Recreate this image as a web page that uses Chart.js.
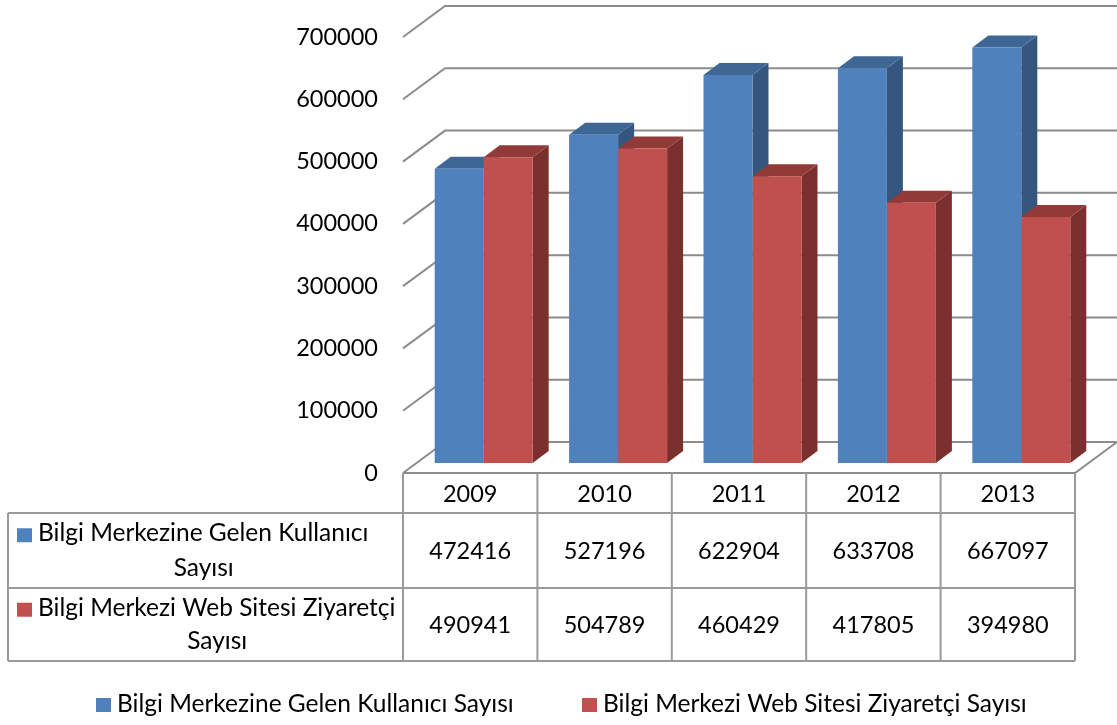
<!DOCTYPE html>
<html><head><meta charset="utf-8">
<script src="https://cdn.jsdelivr.net/npm/chart.js@4"></script>
<style>html,body{margin:0;padding:0;background:#fff;overflow:hidden}#wrap{width:1117px;height:725px;position:relative}</style>
</head><body><div id="wrap"><canvas id="c" width="1117" height="725"></canvas></div>
<script>
// ---- data ----
const years = ['2009', '2010', '2011', '2012', '2013'];
const seriesNames = ['Bilgi Merkezine Gelen Kullanıcı Sayısı', 'Bilgi Merkezi Web Sitesi Ziyaretçi Sayısı'];
const rowHeaderLines = [['Bilgi Merkezine Gelen Kullanıcı', 'Sayısı'], ['Bilgi Merkezi Web Sitesi Ziyaretçi', 'Sayısı']];
const kullanici = [472416, 527196, 622904, 633708, 667097];
const ziyaretci = [490941, 504789, 460429, 417805, 394980];
const yMin = 0, yMax = 700000, yStep = 100000;

// ---- style ----
const FRONT = '#4F81BD', RED = '#C0504D';
const faceColors = [{top: '#3E6796', side: '#34567F'}, {top: '#923A37', side: '#7B302E'}];
const TEXT_FONT = '24.5px Lato';
const NUM_FONT = '23.5px Lato';
const GRID = '#8C8C8C';
const TABLE = '#9A9A9A';
const FRONT_DX = -13.5, FRONT_DY = 10, BACK_DX = 28.5, BACK_DY = -21;
const BAR_DX = 16, BAR_DY = -12;
const ROW_Y = [473, 513, 588, 661];
const TABLE_LEFT = 8;

const scene = {
  id: 'scene',
  beforeDatasetsDraw(chart) {
    const ctx = chart.ctx, ys = chart.scales.y, ca = chart.chartArea;
    ctx.save();
    ctx.strokeStyle = GRID; ctx.lineWidth = 2;
    const W = chart.width;
    ys.ticks.forEach(t => {
      const yb = ys.getPixelForValue(t.value);
      ctx.beginPath();
      ctx.moveTo(ca.left + FRONT_DX, yb + FRONT_DY);
      ctx.lineTo(ca.left + BACK_DX, yb + BACK_DY);
      ctx.lineTo(W, yb + BACK_DY);
      ctx.stroke();
    });
    const y0 = ys.getPixelForValue(0);
    ctx.beginPath();
    ctx.moveTo(ca.left + FRONT_DX, y0 + FRONT_DY);
    ctx.lineTo(ca.right + FRONT_DX, y0 + FRONT_DY);
    ctx.lineTo(ca.right + BACK_DX, y0 + BACK_DY);
    ctx.stroke();
    const metas = [chart.getDatasetMeta(0), chart.getDatasetMeta(1)];
    for (let j = 0; j < years.length; j++) {
      metas.forEach((m, di) => {
        const el = m.data[j];
        const x0 = el.x - el.width / 2, x1 = el.x + el.width / 2, yt = el.y, yb = el.base;
        ctx.fillStyle = faceColors[di].side;
        ctx.beginPath();
        ctx.moveTo(x1, yt); ctx.lineTo(x1 + BAR_DX, yt + BAR_DY);
        ctx.lineTo(x1 + BAR_DX, yb + BAR_DY); ctx.lineTo(x1, yb); ctx.closePath(); ctx.fill();
        ctx.fillStyle = faceColors[di].top;
        ctx.beginPath();
        ctx.moveTo(x0, yt); ctx.lineTo(x1, yt);
        ctx.lineTo(x1 + BAR_DX, yt + BAR_DY); ctx.lineTo(x0 + BAR_DX, yt + BAR_DY); ctx.closePath(); ctx.fill();
      });
    }
    ctx.restore();
  },
  afterDraw(chart) {
    const ctx = chart.ctx, xs = chart.scales.x;
    ctx.save();
    const half = (xs.getPixelForValue(1) - xs.getPixelForValue(0)) / 2;
    const colEdges = years.map((_, i) => xs.getPixelForValue(i) - half + FRONT_DX);
    colEdges.push(xs.getPixelForValue(years.length - 1) + half + FRONT_DX);
    const tableRight = colEdges[colEdges.length - 1];
    ctx.strokeStyle = TABLE; ctx.lineWidth = 2;
    ctx.beginPath();
    colEdges.forEach(x => { ctx.moveTo(x, ROW_Y[0]); ctx.lineTo(x, ROW_Y[3]); });
    ctx.moveTo(TABLE_LEFT, ROW_Y[1]); ctx.lineTo(TABLE_LEFT, ROW_Y[3]);
    for (let r = 1; r < 4; r++) { ctx.moveTo(TABLE_LEFT, ROW_Y[r]); ctx.lineTo(tableRight, ROW_Y[r]); }
    ctx.stroke();
    ctx.fillStyle = '#000'; ctx.font = NUM_FONT; ctx.textBaseline = 'middle'; ctx.textAlign = 'center';
    years.forEach((yr, i) => {
      const cx = (colEdges[i] + colEdges[i + 1]) / 2;
      ctx.fillText(yr, cx, (ROW_Y[0] + ROW_Y[1]) / 2 + 1);
      chart.data.datasets.forEach((ds, di) => {
        ctx.fillText(String(ds.data[i]), cx, (ROW_Y[di + 1] + ROW_Y[di + 2]) / 2 + 1);
      });
    });
    ctx.font = TEXT_FONT;
    chart.data.datasets.forEach((ds, di) => {
      const top = ROW_Y[di + 1], bot = ROW_Y[di + 2];
      const l1 = top + (bot - top) * 0.27, l2 = top + (bot - top) * 0.73;
      ctx.fillStyle = ds.backgroundColor;
      ctx.fillRect(17, l1 - 5, 15, 14);
      ctx.fillStyle = '#000';
      ctx.textAlign = 'left';
      ctx.fillText(rowHeaderLines[di][0], 38, l1);
      const w1 = ctx.measureText(rowHeaderLines[di][0]).width;
      ctx.textAlign = 'center';
      ctx.fillText(rowHeaderLines[di][1], (17 + 38 + w1) / 2 + 11, l2);
    });
    const legX = [96, 582];
    chart.data.datasets.forEach((ds, di) => {
      ctx.fillStyle = ds.backgroundColor;
      ctx.fillRect(legX[di], 698, 15, 14);
      ctx.fillStyle = '#000'; ctx.textAlign = 'left';
      ctx.fillText(ds.label, legX[di] + 21, 704);
    });
    ctx.restore();
  }
};

new Chart(document.getElementById('c'), {
  type: 'bar',
  data: {
    labels: years,
    datasets: [
      {label: seriesNames[0], data: kullanici, backgroundColor: FRONT, borderWidth: 0},
      {label: seriesNames[1], data: ziyaretci, backgroundColor: RED, borderWidth: 0}
    ]
  },
  options: {
    responsive: false, animation: false,
    layout: {padding: {left: 216.5, right: 28.5, top: 27, bottom: 262}},
    categoryPercentage: 0.729, barPercentage: 1,
    plugins: {legend: {display: false}, tooltip: {enabled: false}},
    scales: {
      x: {display: false},
      y: {
        min: yMin, max: yMax,
        grid: {display: false, drawTicks: false}, border: {display: false},
        ticks: {stepSize: yStep, padding: 38.5, labelOffset: 10, color: '#000',
                font: {family: 'Lato', size: 23.5}, callback: v => String(v)},
        afterFit(s) { s.width = 200; s.paddingTop = 0; s.paddingBottom = 0; }
      }
    }
  },
  plugins: [scene]
});
</script></body></html>
